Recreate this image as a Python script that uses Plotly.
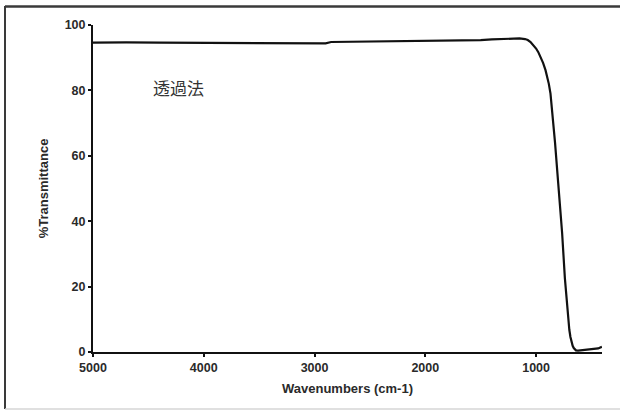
import plotly.graph_objects as go

# Wavenumbers (cm-1) and %Transmittance
wavenumbers = [5000, 4900, 4800, 4700, 4400, 4000, 3600, 3200, 2950, 2900, 2850, 2500,
               2200, 1800, 1500, 1400, 1300, 1250, 1200, 1150, 1100, 1075, 1050, 1025,
               1000, 980, 960, 937, 915, 900, 885, 870, 856, 829, 800, 765, 740, 720,
               711, 700, 690, 680, 670, 660, 650, 640, 620, 580, 520, 480, 440, 406]
transmittance = [94.6, 94.7, 94.6, 94.7, 94.6, 94.6, 94.6, 94.6, 94.5, 94.4, 94.8, 94.9,
                 95.0, 95.2, 95.4, 95.6, 95.7, 95.9, 95.9, 95.9, 95.7, 95.4, 94.8, 93.9,
                 92.8, 91.7, 90.3, 88.4, 86.2, 84.5, 82.0, 79.0, 74.5, 64.0, 51.5, 36.4,
                 22.5, 14.0, 10.2, 6.8, 4.6, 3.0, 1.9, 1.2, 0.8, 0.5, 0.4, 0.6, 0.8, 1.0,
                 1.1, 1.6]

x_ticks = [5000, 4000, 3000, 2000, 1000]
y_ticks = [0, 20, 40, 60, 80, 100]
x_title = "Wavenumbers (cm-1)"
y_title = "%Transmittance"
note = "透過法"

fig = go.Figure()
fig.add_trace(go.Scatter(x=wavenumbers, y=transmittance, mode="lines",
                         line=dict(color="#111111", width=2.2), hoverinfo="skip"))

tick_font = dict(family="Liberation Sans, Arial, sans-serif", size=12.5, color="#2a2a2a", weight="bold")
title_font = dict(family="Liberation Sans, Arial, sans-serif", size=13, color="#2a2a2a", weight="bold")

fig.update_layout(
    width=620, height=414,
    margin=dict(l=93, r=18, t=25, b=62),
    paper_bgcolor="white", plot_bgcolor="white",
    showlegend=False,
    xaxis=dict(range=[5000, 405], tickvals=x_ticks, ticks="outside", ticklen=3, tickwidth=2,
               tickcolor="#111", showline=True, linewidth=2, linecolor="#111",
               showgrid=False, zeroline=False, tickfont=tick_font,
               title=dict(text=x_title, font=title_font, standoff=10)),
    yaxis=dict(range=[0, 100], tickvals=y_ticks, ticks="outside", ticklen=3, tickwidth=2,
               tickcolor="#111", showline=True, linewidth=2, linecolor="#111",
               showgrid=False, zeroline=False, tickfont=tick_font,
               title=dict(text=y_title, font=title_font, standoff=13)),
    annotations=[dict(text=note, x=0.167, y=0.81, xref="paper", yref="paper",
                      showarrow=False, xanchor="center", yanchor="middle",
                      font=dict(family="Noto Sans CJK JP", size=17, color="#333333"))],
)

# outer frame around the picture (pixel positions converted to paper units)
px_x = lambda p: (p - 93) / 509
px_y = lambda p: (352 - p) / 327
frame = [
    (5, 6.5, 621, 6.5, "#3a3a3a", 2.5),
    (5, 6, 5, 409, "#3a3a3a", 2),
    (5, 409, 621, 409, "#d6d6d6", 1.5),
]
for x0, y0, x1, y1, c, w in frame:
    fig.add_shape(type="line", xref="paper", yref="paper",
                  x0=px_x(x0), y0=px_y(y0), x1=px_x(x1), y1=px_y(y1),
                  line=dict(color=c, width=w))

fig.write_html("out.html", config={"displayModeBar": False},
               post_script="document.body.style.margin='0';document.body.style.overflow='hidden';")
